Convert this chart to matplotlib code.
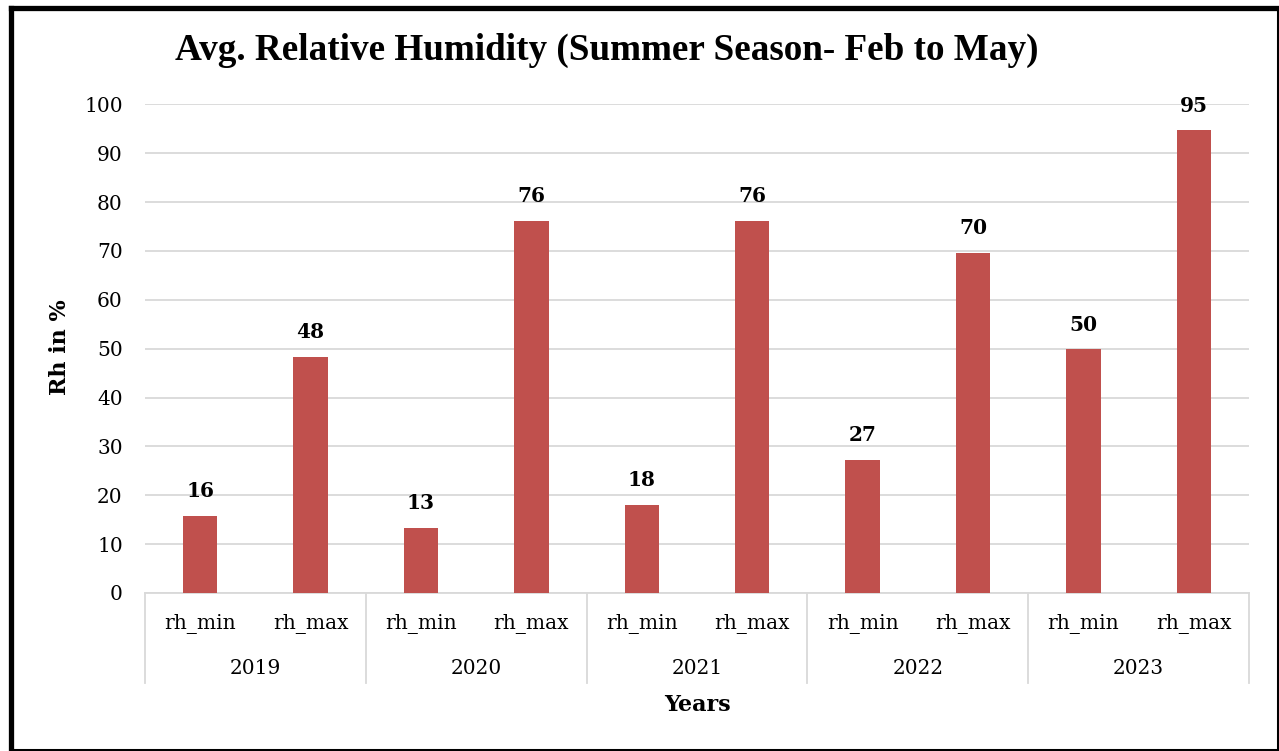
import matplotlib
matplotlib.use("Agg")
import matplotlib.pyplot as plt
from matplotlib.lines import Line2D

years = ["2019", "2020", "2021", "2022", "2023"]
subcats = ["rh_min", "rh_max"]
rh_min = [15.8, 13.3, 18.1, 27.3, 49.9]
rh_max = [48.3, 76.2, 76.2, 69.6, 94.7]
yticks = [0, 10, 20, 30, 40, 50, 60, 70, 80, 90, 100]

W, H = 1279, 751
fig = plt.figure(figsize=(W / 100, H / 100), dpi=100)
fig.patch.set_facecolor("white")

ax_l, ax_r, ax_t, ax_b = 145, 1249, 104.3, 593
ax = fig.add_axes([ax_l / W, (H - ax_b) / H, (ax_r - ax_l) / W, (ax_b - ax_t) / H])

bar_color = "#C0504D"
grid_color = "#D9D9D9"
tick_font = "DejaVu Serif"
title_font = "Liberation Serif"

values = []
for a, b in zip(rh_min, rh_max):
    values += [a, b]
xs = list(range(len(values)))
ax.bar(xs, values, width=0.31, color=bar_color, zorder=3)

for x, v in zip(xs, values):
    ax.annotate(f"{round(v):d}", (x, v), xytext=(0, 10.5), textcoords="offset points",
                ha="center", va="bottom", fontsize=14.5, fontweight="bold",
                family=tick_font, color="black")

ax.set_xlim(-0.5, len(values) - 0.5)
ax.set_ylim(0, 100)
ax.set_yticks(yticks)
ax.set_yticklabels([str(t) for t in yticks], fontsize=14.5, family=tick_font)
ax.tick_params(axis="y", length=0, pad=16)
ax.set_xticks([])
ax.yaxis.grid(True, color=grid_color, lw=1.3, zorder=0)
for s in ["top", "right", "left"]:
    ax.spines[s].set_visible(False)
ax.spines["bottom"].set_color(grid_color)
ax.spines["bottom"].set_linewidth(1.3)

px_per_y = (ax_b - ax_t)
def ay(ypx):
    return -(ypx - ax_b) / px_per_y

for g in range(len(years) + 1):
    xg = 2 * g - 0.5
    ax.plot([xg, xg], [0, ay(683) * 100], color=grid_color, lw=1.3, clip_on=False,
            zorder=1)

trans = ax.get_xaxis_transform()
for i, x in enumerate(xs):
    ax.text(x, ay(624), subcats[i % 2], transform=trans, ha="center", va="center",
            fontsize=14.5, family=tick_font)
for g, yr in enumerate(years):
    ax.text(2 * g + 0.5, ay(668), yr, transform=trans, ha="center", va="center",
            fontsize=14.5, family=tick_font)

fig.text(697 / W, 1 - 705 / H, "Years", ha="center", va="center", fontsize=16,
         fontweight="bold", family=tick_font)
fig.text(60 / W, 1 - 347 / H, "Rh in %", ha="center", va="center", rotation=90,
         fontsize=16, fontweight="bold", family=tick_font)
fig.text(607 / W, 1 - 50 / H, "Avg. Relative Humidity (Summer Season- Feb to May)",
         ha="center", va="center", fontsize=26.7, fontweight="bold", family=title_font)

# frame: thick left/top, thin right/bottom (as in reference)
def fl(x0, y0, x1, y1, lw):
    fig.lines.append(Line2D([x0 / W, x1 / W], [1 - y0 / H, 1 - y1 / H],
                            transform=fig.transFigure, color="black", lw=lw,
                            solid_capstyle="projecting"))
fl(10.5, 8, 1277, 8, 3.8)
fl(10.5, 8, 10.5, 749.5, 3.8)
fl(1277.5, 8, 1277.5, 749.5, 2.2)
fl(10.5, 749.5, 1277.5, 749.5, 2.2)

fig.savefig("out.png", dpi=100)
